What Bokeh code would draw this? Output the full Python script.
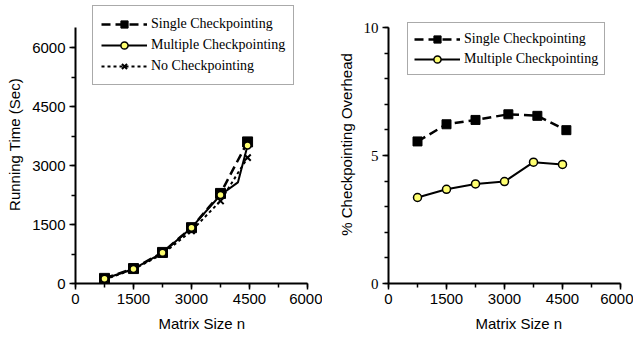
from bokeh.plotting import figure
from bokeh.layouts import row
from bokeh.models import Range1d, SingleIntervalTicker, Legend, LegendItem, Title
from bokeh.embed import file_html
from bokeh.resources import INLINE

# ---- data: left panel (running time) ----
matrix_sizes = [750, 1500, 2250, 3000, 3750, 4450]
single_time = [130, 380, 790, 1420, 2290, 3600]
multiple_time = [120, 370, 780, 1420, 2250, 3510]
multiple_line_x = [750, 1500, 2250, 3000, 3750, 4200, 4450]
multiple_line_y = [120, 370, 780, 1420, 2250, 2570, 3510]
none_time = [100, 360, 750, 1340, 2100, 3200]

# ---- data: right panel (overhead %) ----
single_sizes_r = [750, 1500, 2250, 3100, 3850, 4600]
single_pct = [5.55, 6.22, 6.39, 6.61, 6.55, 5.99]
multiple_sizes_r = [750, 1500, 2250, 3000, 3750, 4500]
multiple_pct = [3.36, 3.68, 3.89, 3.98, 4.74, 4.65]

x_label = "Matrix Size n"
left_y_label = "Running Time (Sec)"
right_y_label = "% Checkpointing Overhead"
series_names = ["Single Checkpointing", "Multiple Checkpointing", "No Checkpointing"]

SANS = "Liberation Sans"
SERIF = "Liberation Serif"
YELLOW = "#ffff70"


def style_axes(p, ybounds, y_interval, y_minor, y_font):
    p.xgrid.visible = False
    p.ygrid.visible = False
    p.outline_line_color = None
    p.background_fill_color = "white"
    p.border_fill_color = "white"
    xa = p.xaxis[0]
    ya = p.yaxis[0]
    xa.ticker = SingleIntervalTicker(interval=1500, num_minor_ticks=2)
    ya.ticker = SingleIntervalTicker(interval=y_interval, num_minor_ticks=y_minor)
    ya.bounds = ybounds
    for ax in (xa, ya):
        ax.axis_line_width = 2
        ax.axis_line_color = "black"
        ax.major_tick_line_width = 1.5
        ax.minor_tick_line_width = 1.5
        ax.major_tick_in = 0
        ax.major_tick_out = 6
        ax.minor_tick_in = 0
        ax.minor_tick_out = 4
        ax.major_label_text_color = "black"
        ax.major_label_text_font_size = "15px"
        ax.major_label_standoff = 4
        ax.axis_label_text_font = SANS
        ax.axis_label_text_font_style = "normal"
        ax.axis_label_text_font_size = "15px"
        ax.axis_label_text_color = "black"
    xa.major_label_text_font = SANS
    ya.major_label_text_font = y_font
    ya.axis_label_standoff = 6


def x_title(offset):
    return Title(text=x_label, align="left", offset=offset, text_font=SANS,
                 text_font_size="15px", text_font_style="normal", text_color="black",
                 standoff=13)


def make_legend(items, loc, label_height, padding):
    return Legend(items=items, location=loc, orientation="vertical",
                  label_text_font=SERIF, label_text_font_size="14px", label_text_color="black",
                  glyph_width=46, glyph_height=18, label_standoff=4, label_height=label_height,
                  padding=padding, spacing=1, margin=0,
                  border_line_color="#555555", border_line_width=1.2,
                  background_fill_color="white")


# ---------------- left figure ----------------
pl = figure(width=322, height=340, output_backend="svg", toolbar_location=None,
            x_range=Range1d(0, 6000), y_range=Range1d(0, 7068),
            min_border_left=75, min_border_right=15, min_border_top=5, min_border_bottom=57)
style_axes(pl, (0, 6500), 1500, 2, SANS)
pl.yaxis[0].axis_label = left_y_label

l1 = pl.line(matrix_sizes, single_time, line_color="black", line_width=2.5, line_dash="9 5")
l3 = pl.line(matrix_sizes, none_time, line_color="black", line_width=2, line_dash="3 3")
l2 = pl.line(multiple_line_x, multiple_line_y, line_color="black", line_width=2)
m3 = pl.scatter(matrix_sizes, none_time, marker="x", size=9, line_color="black", line_width=2)
m1 = pl.scatter(matrix_sizes, single_time, marker="square", size=10, fill_color="black", line_color="black")
m2 = pl.scatter(matrix_sizes, multiple_time, marker="circle", size=7, fill_color=YELLOW,
                line_color="black", line_width=1.5)

pl.add_layout(x_title(83), "below")

pl.add_layout(make_legend([LegendItem(label=series_names[0], renderers=[l1, m1]),
                           LegendItem(label=series_names[1], renderers=[l2, m2]),
                           LegendItem(label=series_names[2], renderers=[l3, m3])],
                          (17, 198), 20, 8))

# ---------------- right figure ----------------
pr = figure(width=311, height=340, output_backend="svg", toolbar_location=None,
            x_range=Range1d(0, 6000), y_range=Range1d(0, 10.86),
            min_border_left=66, min_border_right=13, min_border_top=5, min_border_bottom=57)
style_axes(pr, (0, 10), 5, 5, SERIF)
pr.yaxis[0].axis_label = right_y_label
pr.yaxis[0].major_label_text_font_size = "15px"

r1 = pr.line(single_sizes_r, single_pct, line_color="black", line_width=2.5, line_dash="9 5")
r2 = pr.line(multiple_sizes_r, multiple_pct, line_color="black", line_width=2)
rm1 = pr.scatter(single_sizes_r, single_pct, marker="square", size=9, fill_color="black", line_color="black")
rm2 = pr.scatter(multiple_sizes_r, multiple_pct, marker="circle", size=8, fill_color=YELLOW,
                 line_color="black", line_width=1.5)

pr.add_layout(x_title(87), "below")

pr.add_layout(make_legend([LegendItem(label=series_names[0], renderers=[r1, rm1]),
                           LegendItem(label=series_names[1], renderers=[r2, rm2])],
                          (19, 208), 19, 6))

layout = row(pl, pr)
open("out.html", "w").write(file_html(layout, INLINE))
